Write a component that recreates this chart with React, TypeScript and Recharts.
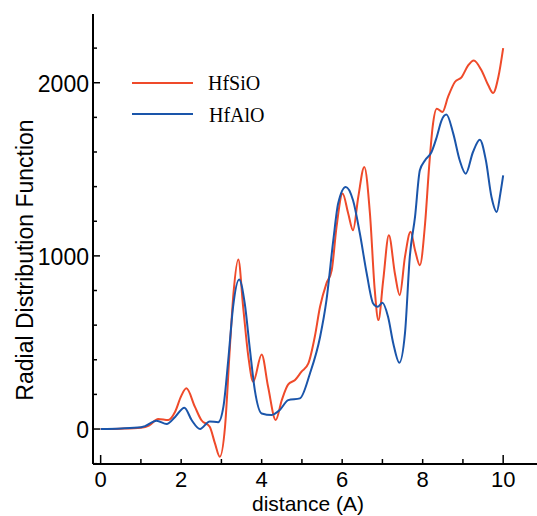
import React from 'react'
import { LineChart, Line, XAxis, YAxis } from 'recharts'

// HfSiO curve (distance in A, RDF value)
const hfsioDistance = [
    0, 0.5, 1.0, 1.2, 1.43, 1.68, 1.85, 2.0, 2.13, 2.34, 2.5, 2.71, 2.84, 2.96, 3.09, 3.21, 3.3, 3.42,
    3.54, 3.67, 3.79, 4.0, 4.16, 4.35, 4.5, 4.66, 4.83, 4.99, 5.16, 5.32, 5.45, 5.61, 5.74, 5.86,
    6.01, 6.15, 6.27, 6.4, 6.55, 6.69, 6.81, 6.9, 7.02, 7.16, 7.31, 7.43, 7.56, 7.7, 7.81, 7.93,
    8.06, 8.16, 8.25, 8.35, 8.49, 8.63, 8.8, 8.97, 9.13, 9.27, 9.46, 9.63, 9.75, 9.88, 10.0,
]
const hfsioValue = [
    0, 2, 8, 20, 58, 52, 100, 190, 235, 129, 52, 13, -83, -160, 13, 470, 783, 979,
    706, 417, 273, 431, 244, 52, 167, 258, 283, 331, 379, 533, 706, 841, 917, 1167,
    1360, 1245, 1148, 1340, 1514, 1245, 802, 629, 860, 1119, 898, 773, 994, 1139, 1033, 946,
    1187, 1514, 1750, 1850, 1831, 1918, 2004, 2033, 2100, 2129, 2072, 1985, 1941, 2033, 2200,
]

// HfAlO curve
const hfaloDistance = [
    0, 0.5, 1.0, 1.1, 1.39, 1.64, 1.85, 2.08, 2.26, 2.47, 2.71, 2.92, 3.05, 3.17, 3.29, 3.44, 3.58,
    3.71, 3.83, 4.0, 4.25, 4.45, 4.66, 4.95, 5.2, 5.45, 5.61, 5.78, 5.9, 6.09, 6.27, 6.44, 6.61,
    6.77, 6.88, 7.0, 7.14, 7.27, 7.42, 7.56, 7.68, 7.81, 7.93, 8.06, 8.22, 8.35, 8.47, 8.59,
    8.76, 8.92, 9.07, 9.25, 9.42, 9.57, 9.71, 9.84, 9.93, 10.0,
]
const hfaloValue = [
    0, 3, 10, 17, 48, 29, 70, 123, 52, 0, 44, 39, 129, 398, 706, 864, 725,
    456, 225, 90, 81, 110, 167, 177, 321, 530, 744, 1091, 1302, 1398, 1321, 1129, 898,
    725, 706, 729, 648, 494, 383, 552, 994, 1225, 1494, 1552, 1600, 1687, 1783, 1816,
    1706, 1552, 1475, 1600, 1671, 1552, 1340, 1254, 1360, 1465,
]

const xTicks = [0, 1, 2, 3, 4, 5, 6, 7, 8, 9, 10]
const xLabels = [0, 2, 4, 6, 8, 10]
const xMajor = [0, 10]
const yTicks = [-200, 0, 200, 400, 600, 800, 1000, 1200, 1400, 1600, 1800, 2000, 2200]
const yLabels = [0, 1000, 2000]
const yMajor = [0, 1000, 2000]

const hfsioData = hfsioDistance.map((d, i) => ({ d, v: hfsioValue[i] }))
const hfaloData = hfaloDistance.map((d, i) => ({ d, v: hfaloValue[i] }))

const RED = '#ef4a2a'
const BLUE = '#1a55aa'
const FONT = '"Liberation Sans", Arial, sans-serif'

const BottomTick = ({ x, y, payload }: any) => {
    const v = payload.value
    const len = xMajor.includes(v) ? 9 : 5
    return (
        <g>
            <line x1={x} y1={y} x2={x} y2={y - len} stroke='#000' strokeWidth={1.5} />
            {xLabels.includes(v) && (
                <text x={x} y={y + 23} textAnchor='middle' fontSize={22} fontFamily={FONT} fill='#000'>
                    {v}
                </text>
            )}
        </g>
    )
}

const TopTick = ({ x, y, payload }: any) => {
    const len = xMajor.includes(payload.value) ? 8 : 4
    return <line x1={x} y1={y} x2={x} y2={y + len} stroke='#000' strokeWidth={1.5} />
}

const LeftTick = ({ x, y, payload }: any) => {
    const v = payload.value
    const len = yMajor.includes(v) ? 7 : 4
    return (
        <g>
            <line x1={x} y1={y} x2={x + len} y2={y} stroke='#000' strokeWidth={1.5} />
            {yLabels.includes(v) && (
                <text x={x - 4} y={y + 9} textAnchor='end' fontSize={23} fontFamily={FONT} fill='#000'>
                    {v}
                </text>
            )}
        </g>
    )
}

const RightTick = ({ x, y }: any) => (
    <line x1={x} y1={y} x2={x - 7} y2={y} stroke='#000' strokeWidth={1.5} />
)

const App = () => {
    return (
        <div style={{ position: 'absolute', left: 0, top: 0, width: 537, height: 516, overflow: 'hidden', background: '#fff' }}>
            <LineChart width={539} height={516} margin={{ top: 14, right: 0, bottom: 0, left: 0 }}>
                <XAxis
                    dataKey='d'
                    type='number'
                    domain={[-0.19, 10.89]}
                    ticks={xTicks}
                    interval={0}
                    tick={<BottomTick />}
                    tickLine={false}
                    tickSize={0}
                    tickMargin={0}
                    height={52}
                    axisLine={{ stroke: '#000', strokeWidth: 2 }}
                    allowDataOverflow
                />
                <XAxis
                    xAxisId='top'
                    orientation='top'
                    type='number'
                    domain={[-0.19, 10.89]}
                    ticks={xTicks}
                    interval={0}
                    tick={<TopTick />}
                    tickLine={false}
                    tickSize={0}
                    tickMargin={0}
                    height={0}
                    axisLine={{ stroke: '#000', strokeWidth: 2 }}
                    allowDataOverflow
                />
                <YAxis
                    type='number'
                    domain={[-202, 2397]}
                    ticks={yTicks}
                    interval={0}
                    tick={<LeftTick />}
                    tickLine={false}
                    tickSize={0}
                    tickMargin={0}
                    width={93}
                    axisLine={{ stroke: '#000', strokeWidth: 2 }}
                    allowDataOverflow
                />
                <YAxis
                    yAxisId='right'
                    orientation='right'
                    type='number'
                    domain={[-202, 2397]}
                    ticks={yMajor}
                    interval={0}
                    tick={<RightTick />}
                    tickLine={false}
                    tickSize={0}
                    tickMargin={0}
                    width={0}
                    axisLine={{ stroke: '#000', strokeWidth: 2 }}
                    allowDataOverflow
                />
                <Line data={hfsioData} dataKey='v' name='HfSiO' type='monotone' stroke={RED} strokeWidth={2} dot={false} isAnimationActive={false} />
                <Line data={hfaloData} dataKey='v' name='HfAlO' type='monotone' stroke={BLUE} strokeWidth={2} dot={false} isAnimationActive={false} />
            </LineChart>

            <svg width={537} height={516} style={{ position: 'absolute', left: 0, top: 0, pointerEvents: 'none' }}>
                <text
                    transform='translate(33, 260) rotate(-90)'
                    textAnchor='middle'
                    fontSize={23}
                    fontFamily={FONT}
                    fill='#000'
                >
                    Radial Distribution Function
                </text>
                <text x={308} y={511} textAnchor='middle' fontSize={21} fontFamily={FONT} fill='#000'>
                    distance (A)
                </text>
                <line x1={132} y1={83} x2={193} y2={83} stroke={RED} strokeWidth={2} />
                <text x={208} y={90} fontSize={20} fontFamily='"Liberation Serif", "Times New Roman", serif' fill='#000'>HfSiO</text>
                <line x1={132} y1={114} x2={193} y2={114} stroke={BLUE} strokeWidth={2} />
                <text x={209} y={122} fontSize={20} fontFamily='"Liberation Serif", "Times New Roman", serif' fill='#000'>HfAlO</text>
            </svg>
        </div>
    )
}

export default App
